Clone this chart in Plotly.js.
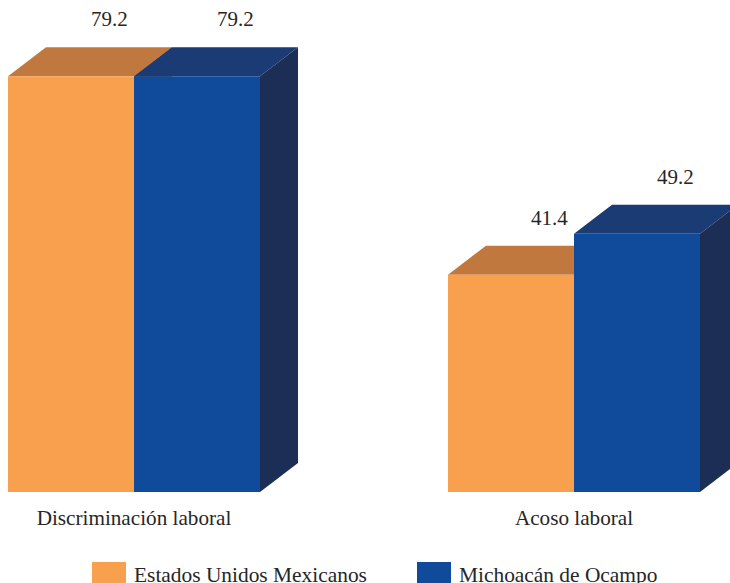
<!DOCTYPE html>
<html><head><meta charset="utf-8">
<script src="https://cdn.plot.ly/plotly-3.0.1.min.js"></script>
<style>html,body{margin:0;padding:0;background:#fff}</style>
</head><body><div id="chart" style="width:730px;height:583px"></div>
<script>
// ---- data ----
const categories = ['Discriminación laboral', 'Acoso laboral'];
const seriesNames = ['Estados Unidos Mexicanos', 'Michoacán de Ocampo'];
const valuesMexico = [79.2, 41.4];
const valuesMichoacan = [79.2, 49.2];

// ---- style / layout constants ----
const W = 730, H = 583, MB = 91;
const PH = H - MB;                 // plot height px
const STEP = 440;                  // px per category step
const YPX = 5.25;                  // px per value unit
const xRange = [-134 / STEP, (W - 134) / STEP];
const yRange = [0, PH / YPX];
const barW = 126 / STEP;
const dX = 38 / STEP, dY = 29 / YPX;
const FONT = 'Liberation Serif, serif';
const TXT = '#262626';

const styles = [
  {front: '#F8A04D', top: '#C0783F', side: '#9C5F2E', offset: -barW},
  {front: '#0F4B9A', top: '#1B3B74', side: '#1C2E56', offset: 0}
];
const seriesValues = [valuesMexico, valuesMichoacan];
const xIdx = categories.map((c, i) => i);

const traces = [];
const shapes = [];
const annotations = [];

seriesValues.forEach((vals, s) => {
  const st = styles[s];
  traces.push({
    type: 'bar', name: seriesNames[s], x: xIdx, y: vals,
    width: barW, offset: st.offset,
    marker: {color: st.front, line: {width: 0}},
    showlegend: false, hoverinfo: 'skip'
  });
  vals.forEach((v, i) => {
    const x0 = i + st.offset, x1 = x0 + barW;
    shapes.push({type: 'path', xref: 'x', yref: 'y', layer: 'below',
      path: `M${x0},${v} L${x1},${v} L${x1 + dX},${v + dY} L${x0 + dX},${v + dY} Z`,
      fillcolor: st.top, line: {width: 0}});
    shapes.push({type: 'path', xref: 'x', yref: 'y', layer: 'below',
      path: `M${x1},0 L${x1},${v} L${x1 + dX},${v + dY} L${x1 + dX},${dY} Z`,
      fillcolor: st.side, line: {width: 0}});
    annotations.push({xref: 'x', yref: 'y', x: x0 + barW / 2 + dX, y: v + dY,
      yshift: 28, text: v.toFixed(1), showarrow: false,
      font: {family: FONT, size: 21, color: TXT}});
  });
});

// legend (drawn manually with large swatches)
const px2x = p => p / W;
const px2y = p => (PH - p) / PH;
const legendX = [92, 417];
seriesNames.forEach((n, s) => {
  shapes.push({type: 'rect', xref: 'paper', yref: 'paper',
    x0: px2x(legendX[s]), x1: px2x(legendX[s] + 34),
    y0: px2y(562), y1: px2y(586),
    fillcolor: styles[s].front, line: {width: 0}});
  annotations.push({xref: 'paper', yref: 'paper', x: px2x(legendX[s] + 40), y: px2y(575),
    xanchor: 'left', yanchor: 'middle', text: n, showarrow: false,
    font: {family: FONT, size: 21.4, color: TXT}});
});

const layout = {
  width: W, height: H,
  margin: {l: 0, r: 0, t: 0, b: MB, pad: 0},
  paper_bgcolor: '#ffffff', plot_bgcolor: '#ffffff',
  showlegend: false,
  xaxis: {range: xRange, tickvals: xIdx, ticktext: categories, showgrid: false,
    zeroline: false, showline: false, ticks: '', fixedrange: true,
    ticklabelstandoff: 11,
    tickfont: {family: FONT, size: 21.2, color: TXT}},
  yaxis: {range: yRange, visible: false, showgrid: false, zeroline: false, fixedrange: true},
  shapes: shapes, annotations: annotations
};

Plotly.newPlot('chart', traces, layout, {displayModeBar: false, staticPlot: true});
</script>
</body></html>
